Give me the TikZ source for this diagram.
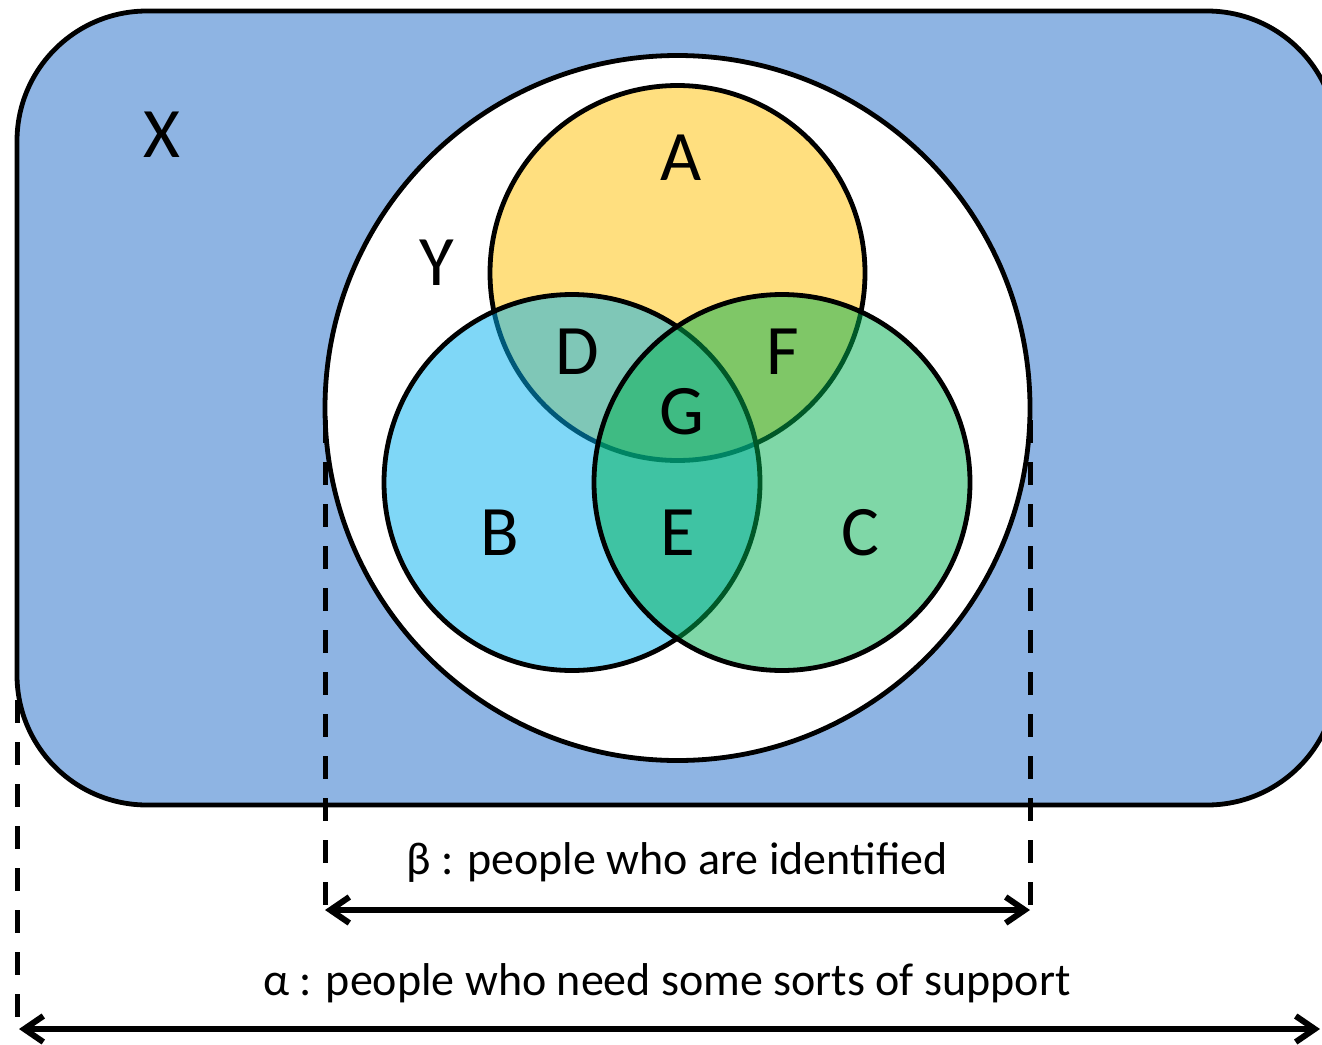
\documentclass[tikz,border=0pt]{standalone}
\usepackage{fontspec}
\setmainfont{Carlito}
\usetikzlibrary{arrows.meta}
\definecolor{xblue}{RGB}{142,180,227}
\definecolor{agold}{RGB}{255,192,0}
\definecolor{bcyan}{RGB}{0,176,240}
\definecolor{cgreen}{RGB}{0,176,80}
\begin{document}
\begin{tikzpicture}[x=1pt,y=-1pt,
  setcircle/.style={circle, line width=4.8pt, draw=black, draw opacity=1, fill opacity=0.5, inner sep=0pt, minimum size=#1},
  lbl/.style={font=\fontsize{71}{85}\selectfont, anchor=base, inner sep=0pt},
  captext/.style={font=\fontsize{46}{55}\selectfont, anchor=base, inner sep=0pt},
  guide/.style={line width=5pt, dash pattern=on 23pt off 19pt},
  dimarrow/.style={line width=6pt, {Straight Barb[length=19pt,width=26pt]}-{Straight Barb[length=19pt,width=26pt]}}
]
\useasboundingbox (0,0) rectangle (1322,1044);
\clip (0,0) rectangle (1322,1044);
\fill[white] (0,0) rectangle (1322,1044);

% universe X
\node[draw=black, line width=4.8pt, fill=xblue, rounded corners=130pt, minimum width=1320pt, minimum height=794pt, inner sep=0pt] (X) at (677,408) {};
% Y
\node[setcircle=705pt, fill=white, fill opacity=1] (Y) at (677.5,408) {};
% sets
\node[setcircle=375pt, fill=agold] (A) at (677.5,273) {};
\node[setcircle=376pt, fill=bcyan] (B) at (572,482.5) {};
\node[setcircle=376pt, fill=cgreen] (C) at (782,482.5) {};

% labels
\node[lbl] (lX) at (162,157) {X};
\node[lbl] (lY) at (437,285) {Y};
\node[lbl] (lA) at (681,180) {A};
\node[lbl] (lD) at (577,374) {D};
\node[lbl] (lF) at (783,374) {F};
\node[lbl] (lG) at (682,434) {G};
\node[lbl] (lB) at (500,555) {B};
\node[lbl] (lE) at (678,555) {E};
\node[lbl] (lC) at (860,555) {C};

% guides
\coordinate (g1t) at (17,700);
\coordinate (g1b) at (17,1030);
\coordinate (g2t) at (325,420);
\coordinate (g2b) at (325,910);
\coordinate (g3t) at (1030,420);
\coordinate (g3b) at (1030,910);
\coordinate (a1) at (19,1029);
\coordinate (a2) at (1320,1029);
\draw[guide] (g1t) -- (g1b);
\draw[guide] (g2t) -- (g2b);
\draw[guide] (g3t) -- (g3b);
\draw[dimarrow] (g2b) -- (g3b);
\draw[dimarrow] (a1) -- (a2);

\node[captext] (beta) at (677,874) {β : people who are identified};
\node[captext] (alpha) at (667,995) {α : people who need some sorts of support};
\end{tikzpicture}
\end{document}
